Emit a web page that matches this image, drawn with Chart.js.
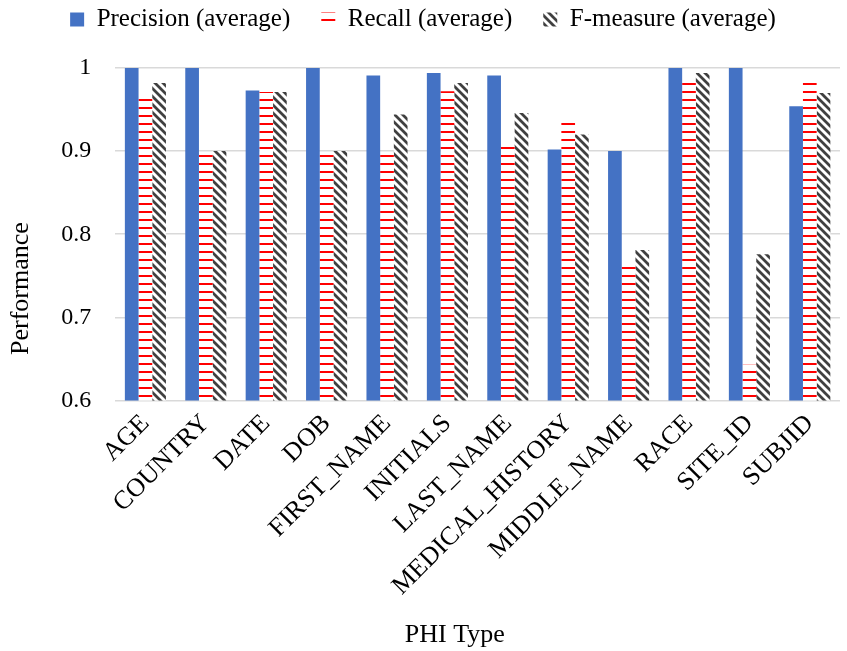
<!DOCTYPE html>
<html>
<head>
<meta charset="utf-8">
<script src="https://cdn.jsdelivr.net/npm/chart.js@4.4.0/dist/chart.umd.min.js"></script>
<style>
  html, body { margin: 0; padding: 0; background: #fff; }
  #wrap { width: 847px; height: 651px; }
</style>
</head>
<body>
<div id="wrap"><canvas id="chart"></canvas></div>
<script>
const categories = ['AGE', 'COUNTRY', 'DATE', 'DOB', 'FIRST_NAME', 'INITIALS', 'LAST_NAME',
    'MEDICAL_HISTORY', 'MIDDLE_NAME', 'RACE', 'SITE_ID', 'SUBJID'];
const precision = [1, 1, 0.973, 1, 0.991, 0.994, 0.991, 0.902, 0.9, 1, 1, 0.954];
const recall    = [0.963, 0.898, 0.971, 0.898, 0.898, 0.972, 0.906, 0.936, 0.766, 0.982, 0.643, 0.982];
const fmeasure  = [0.982, 0.9, 0.971, 0.9, 0.944, 0.982, 0.946, 0.92, 0.781, 0.994, 0.776, 0.97];
const seriesNames = ['Precision (average)', 'Recall (average)', 'F-measure (average)'];

const FONT = '"Liberation Serif", "Times New Roman", serif';

// red horizontal lines on white
function stripePattern() {
    const c = document.createElement('canvas');
    c.width = 8; c.height = 8;
    const g = c.getContext('2d');
    g.fillStyle = '#ffffff';
    g.fillRect(0, 0, 8, 8);
    g.fillStyle = '#ff0000';
    g.fillRect(0, 3, 8, 2);
    return g.createPattern(c, 'repeat');
}

// dark wide downward diagonal
function diagPattern() {
    const c = document.createElement('canvas');
    c.width = 8; c.height = 8;
    const g = c.getContext('2d');
    g.fillStyle = '#ffffff';
    g.fillRect(0, 0, 8, 8);
    g.strokeStyle = '#404040';
    g.lineWidth = 2.8;
    g.beginPath();
    g.moveTo(-4, 4); g.lineTo(4, 12);
    g.moveTo(0, 0); g.lineTo(8, 8);
    g.moveTo(4, -4); g.lineTo(12, 4);
    g.stroke();
    return g.createPattern(c, 'repeat');
}

// push the plot down below the legend
const legendGap = {
    id: 'legendGap',
    beforeInit(chart) {
        const fit = chart.legend.fit;
        chart.legend.fit = function () {
            fit.bind(chart.legend)();
            this.height += 26;
        };
    }
};

const ctx = document.getElementById('chart').getContext('2d');
new Chart(ctx, {
    type: 'bar',
    data: {
        labels: categories,
        datasets: [
            { label: seriesNames[0], data: precision, backgroundColor: '#4472c4', borderWidth: 0 },
            { label: seriesNames[1], data: recall, backgroundColor: stripePattern(), borderWidth: 0 },
            { label: seriesNames[2], data: fmeasure, backgroundColor: diagPattern(), borderWidth: 0 }
        ]
    },
    plugins: [legendGap],
    options: {
        responsive: true,
        maintainAspectRatio: false,
        animation: false,
        layout: { padding: { left: 6, right: 7, top: -24, bottom: 0 } },
        datasets: {
            bar: { categoryPercentage: 0.68, barPercentage: 1.0 }
        },
        plugins: {
            legend: {
                display: true,
                position: 'top',
                labels: {
                    boxWidth: 14,
                    boxHeight: 14,
                    padding: 31,
                    color: '#000',
                    font: { family: FONT, size: 25 }
                }
            },
            tooltip: { enabled: false }
        },
        scales: {
            y: {
                min: 0.6,
                max: 1,
                ticks: {
                    stepSize: 0.1,
                    color: '#000',
                    padding: 24,
                    font: { family: FONT, size: 24 },
                    callback: function (v) { return String(Number(v.toFixed(1))); }
                },
                grid: { color: '#d9d9d9', lineWidth: 1.5, drawTicks: false },
                border: { display: false },
                title: {
                    display: true,
                    text: '       Performance',
                    align: 'start',
                    color: '#000',
                    font: { family: FONT, size: 26 },
                    padding: { top: 0, bottom: 0 }
                }
            },
            x: {
                ticks: {
                    minRotation: 45,
                    maxRotation: 45,
                    autoSkip: false,
                    color: '#000',
                    padding: 8,
                    font: { family: FONT, size: 26 }
                },
                grid: { display: false, drawTicks: false },
                border: { display: false },
                title: {
                    display: true,
                    text: 'PHI Type       ',
                    color: '#000',
                    font: { family: FONT, size: 26 },
                    padding: { top: 10, bottom: 0 }
                }
            }
        }
    }
});
</script>
</body>
</html>
